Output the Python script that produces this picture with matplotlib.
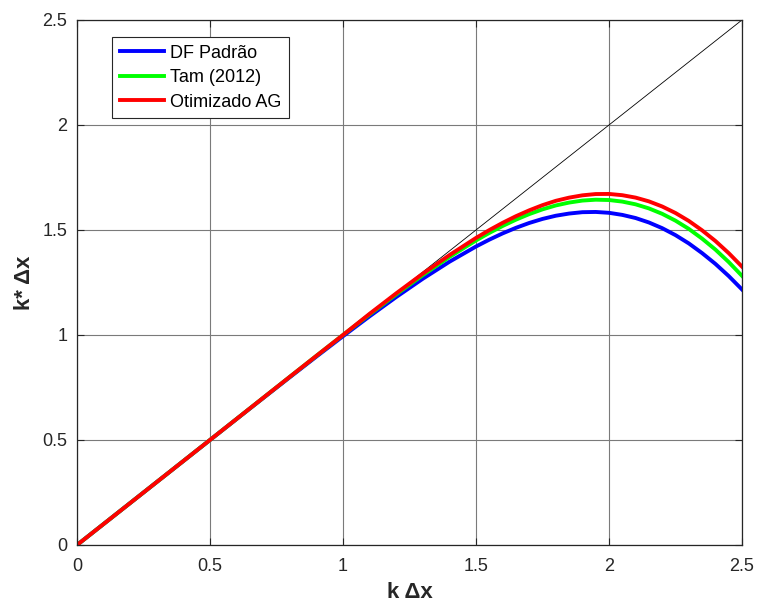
import matplotlib
matplotlib.use("Agg")
import matplotlib.pyplot as plt

plt.rcParams['font.family'] = ['Liberation Sans', 'DejaVu Sans']

# kdx values and modified wavenumbers
kdx = [0.0, 0.1, 0.2, 0.3, 0.4, 0.5, 0.6, 0.7, 0.8, 0.9, 1.0,
       1.1, 1.2, 1.3, 1.4, 1.5, 1.55, 1.6, 1.65, 1.7, 1.75, 1.8, 1.85, 1.9, 1.95, 2.0,
       2.05, 2.1, 2.15, 2.2, 2.25, 2.3, 2.35, 2.4, 2.45, 2.5]
df_padrao = [0.0, 0.1000, 0.2000, 0.3000, 0.3999, 0.4999, 0.5998, 0.6995, 0.7987, 0.8971, 0.9941,
             1.0890, 1.1807, 1.2678, 1.3486, 1.4213, 1.4539, 1.4837, 1.5102, 1.5333, 1.5526,
             1.5678, 1.5782, 1.5847, 1.5858, 1.5817,
             1.5718, 1.5569, 1.5357, 1.5086, 1.4754, 1.4360, 1.3898, 1.3385, 1.2806, 1.2166]
tam_2012 = [0.0, 0.1000, 0.2000, 0.3000, 0.4001, 0.5002, 0.6004, 0.7007, 0.8009, 0.9008, 1.0000,
            1.0979, 1.1933, 1.2850, 1.3713, 1.4501, 1.4860, 1.5190, 1.5490, 1.5755, 1.5982,
            1.6168, 1.6305, 1.6400, 1.6441, 1.6426,
            1.6351, 1.6221, 1.6027, 1.5768, 1.5443, 1.5051, 1.4587, 1.4066, 1.3473, 1.2815]
otimizado_ag = [0.0, 0.1000, 0.2000, 0.3000, 0.4001, 0.5002, 0.6004, 0.7007, 0.8009, 0.9008, 1.0000,
                1.1009, 1.1983, 1.2920, 1.3803, 1.4621, 1.4995, 1.5340, 1.5655, 1.5935, 1.6182,
                1.6388, 1.6540, 1.6650, 1.6711, 1.6716,
                1.6656, 1.6541, 1.6362, 1.6118, 1.5808, 1.5431, 1.4982, 1.4476, 1.3898, 1.3255]
exact = [0.0, 2.5]

ticks = [0, 0.5, 1, 1.5, 2, 2.5]
tick_labels = ['0', '0.5', '1', '1.5', '2', '2.5']

fig = plt.figure(figsize=(7.58, 6.05), dpi=100)
ax = fig.add_axes([0.1016, 0.0992, 0.8773, 0.8678])

# exact relation k* = k
ax.plot(exact, exact, color='black', lw=0.6)

ax.plot(kdx, df_padrao, color='#0000ff', lw=2.8, label='DF Padrão')
ax.plot(kdx, tam_2012, color='#00ff00', lw=2.8, label='Tam (2012)')
ax.plot(kdx, otimizado_ag, color='#ff0000', lw=2.8, label='Otimizado AG')

ax.set_xlim(0, 2.5)
ax.set_ylim(0, 2.5)
ax.set_xticks(ticks)
ax.set_yticks(ticks)
ax.set_xticklabels(tick_labels)
ax.set_yticklabels(tick_labels)
ax.tick_params(direction='in', length=5, width=0.8, top=True, right=True,
               labelsize=13, colors='#262626')
ax.tick_params(axis='x', pad=9.5)
ax.tick_params(axis='y', pad=7)
ax.grid(True, color='#7a7a7a', lw=0.8)
ax.set_axisbelow(True)
for s in ax.spines.values():
    s.set_color('#262626')
    s.set_linewidth(0.9)

ax.set_xlabel('k Δx', fontsize=16, fontweight='bold', color='#262626', labelpad=5)
ax.set_ylabel('k* Δx', fontsize=16, fontweight='bold', color='#262626', labelpad=5)

leg = ax.legend(loc='upper left', bbox_to_anchor=(0.0526, 0.968), borderaxespad=0,
                fontsize=13, fancybox=False, framealpha=1, edgecolor='#262626',
                handlelength=2.44, handletextpad=0.33, labelspacing=0.42,
                borderpad=0.43)
leg.get_frame().set_linewidth(0.8)

fig.savefig('out.png', dpi=100)
